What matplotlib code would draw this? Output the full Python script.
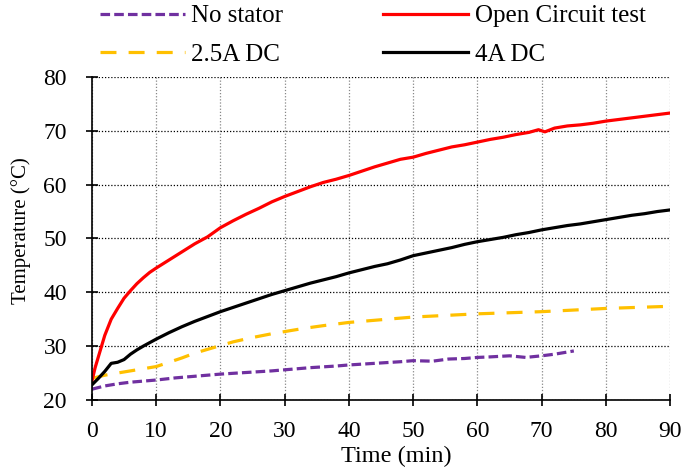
import matplotlib
matplotlib.use("Agg")
import matplotlib.pyplot as plt

plt.rcParams['font.family'] = ['Liberation Serif', 'DejaVu Serif']

t_open = [0, 0.5, 1, 2, 3, 4, 5, 6, 7, 8, 9, 10, 12, 14, 16, 18, 20, 22, 24, 26, 28, 30,
          32, 34, 36, 38, 40, 42, 44, 46, 48, 50, 52, 54, 56, 58, 60, 62, 64, 66, 68, 69.5,
          70.5, 72, 74, 76, 78, 80, 82, 84, 86, 88, 90]
open_circuit = [23.5, 26.0, 28.0, 32.0, 35.0, 37.0, 38.9, 40.3, 41.6, 42.7, 43.7, 44.5, 46.0,
                47.5, 49.0, 50.3, 52.0, 53.3, 54.5, 55.6, 56.8, 57.8, 58.7, 59.6, 60.4, 61.0,
                61.7, 62.5, 63.3, 64.0, 64.7, 65.1, 65.8, 66.4, 67.0, 67.4, 67.9, 68.4, 68.8,
                69.3, 69.7, 70.2, 69.8, 70.5, 70.9, 71.1, 71.4, 71.8, 72.1, 72.4, 72.7, 73.0, 73.3]

t_4a = [0, 1, 2, 3, 4, 5, 6, 7, 8, 10, 12, 14, 16, 18, 20, 22, 24, 26, 28, 30, 32, 34, 36,
        38, 40, 42, 44, 46, 48, 50, 52, 54, 56, 58, 60, 62, 64, 66, 68, 70, 72, 74, 76, 78,
        80, 82, 84, 86, 88, 90]
dc_4a = [22.8, 24.0, 25.3, 26.8, 27.0, 27.5, 28.5, 29.3, 30.0, 31.3, 32.5, 33.6, 34.6, 35.5,
         36.4, 37.2, 38.0, 38.8, 39.6, 40.3, 41.0, 41.7, 42.3, 42.9, 43.6, 44.2, 44.8, 45.3,
         46.0, 46.8, 47.3, 47.8, 48.3, 48.9, 49.4, 49.8, 50.2, 50.7, 51.1, 51.6, 52.0, 52.4,
         52.7, 53.1, 53.5, 53.9, 54.3, 54.6, 55.0, 55.3]

t_25a = [0, 2, 4, 6, 8, 10, 12, 14, 16, 18, 20, 22, 25, 28, 30, 33, 36, 40, 45, 50, 55, 60,
         65, 70, 75, 80, 85, 90]
dc_25a = [24.0, 24.6, 25.0, 25.4, 25.8, 26.2, 27.0, 27.8, 28.7, 29.4, 30.1, 30.8, 31.6, 32.3,
          32.7, 33.3, 33.8, 34.4, 34.9, 35.4, 35.7, 36.0, 36.2, 36.4, 36.7, 37.0, 37.2, 37.4]

t_nostator = [0, 2, 4, 6, 8, 10, 13, 16, 20, 24, 28, 30, 34, 38, 40, 44, 48, 50, 53, 55.5,
              58, 60, 62, 65, 67.5, 70, 72, 75]
no_stator = [22.0, 22.6, 23.0, 23.3, 23.5, 23.7, 24.1, 24.4, 24.8, 25.1, 25.4, 25.6, 26.0,
             26.3, 26.5, 26.8, 27.1, 27.3, 27.2, 27.6, 27.7, 27.9, 28.0, 28.2, 27.9, 28.2,
             28.5, 29.1]

x_ticks = [0, 10, 20, 30, 40, 50, 60, 70, 80, 90]
y_ticks = [20, 30, 40, 50, 60, 70, 80]

fig = plt.figure(figsize=(6.86, 4.75), dpi=100)
ax = fig.add_axes([0.134, 0.158, 0.843, 0.68])

ax.plot(t_nostator, no_stator, color='#7030A0', lw=2.3, ls=(0, (3.0, 1.3)), label='No stator')
ax.plot(t_25a, dc_25a, color='#FFC000', lw=2.3, ls=(0, (5.0, 3.8)), label='2.5A DC')
ax.plot(t_open, open_circuit, color='#FF0000', lw=2.3, label='Open Circuit test')
ax.plot(t_4a, dc_4a, color='black', lw=2.3, label='4A DC')

ax.set_xlim(0, 90)
ax.set_ylim(20, 80)
ax.set_xticks(x_ticks)
ax.set_yticks(y_ticks)
ax.tick_params(axis='both', direction='inout', length=8, width=1.2, labelsize=17)
ax.tick_params(axis='x', pad=11)
ax.tick_params(axis='y', pad=14)
ax.yaxis.grid(True, color='black', ls=(0, (1, 1.5)), lw=0.9)
ax.xaxis.grid(True, color='#888888', ls=(0, (1, 1.5)), lw=0.9)
ax.set_axisbelow(True)
for s in ['top', 'right']:
    ax.spines[s].set_visible(False)
for s in ['left', 'bottom']:
    ax.spines[s].set_linewidth(1.2)

ax.set_xlabel('Time (min)', fontsize=17.5)
ax.set_ylabel('Temperature (°C)', fontsize=15)
ax.xaxis.set_label_coords(0.526, -0.142)
ax.yaxis.set_label_coords(-0.106, 0.523)

leg = fig.legend(loc='upper left', bbox_to_anchor=(0.146, 0.99), ncol=2, frameon=False,
                 fontsize=18, handlelength=3.4, handletextpad=0.25, columnspacing=4.0,
                 labelspacing=0.65, borderpad=0, borderaxespad=0,
                 handles=[ax.lines[0], ax.lines[1], ax.lines[2], ax.lines[3]])

fig.savefig('out.png', dpi=100)
